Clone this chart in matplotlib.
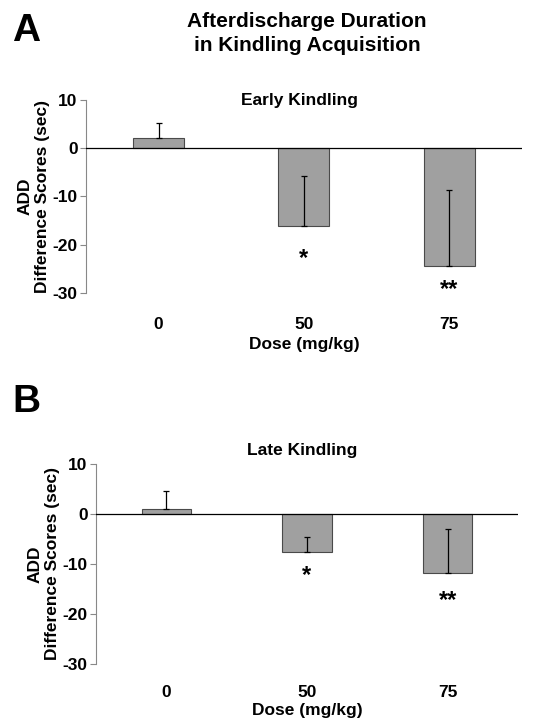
import matplotlib
matplotlib.use("Agg")
import matplotlib.pyplot as plt
import numpy as np

plt.rcParams["font.family"] = ["Liberation Sans", "DejaVu Sans"]
plt.rcParams["font.weight"] = "bold"
plt.rcParams["axes.unicode_minus"] = False

doses = ["0", "50", "75"]

# Early kindling (panel A)
early_mean = [2.1, -16.2, -24.4]
early_err = [3.1, 10.4, 15.7]      # drawn toward/above the bar end
early_stars = ["", "*", "**"]
early_star_y = [None, -22.8, -29.3]

# Late kindling (panel B)
late_mean = [1.0, -7.6, -11.8]
late_err = [3.6, 3.0, 8.8]
late_stars = ["", "*", "**"]
late_star_y = [None, -12.3, -17.3]

BAR_COLOR = "#a0a0a0"
FS = 12.5


def draw_panel(ax, means, errs, stars, star_y, subtitle, sub_y, tick_pad, xl_pad):
    x = np.arange(len(doses))
    ax.bar(x, means, width=0.35, color=BAR_COLOR, edgecolor="#4a4a4a",
           linewidth=0.8, zorder=2)
    ax.errorbar(x, means, yerr=[np.zeros(len(errs)), errs], fmt="none",
                ecolor="black", elinewidth=0.9, capsize=2.5, capthick=0.9,
                zorder=3)
    ax.axhline(0, color="black", linewidth=0.9, zorder=4)
    for xi, s, sy in zip(x, stars, star_y):
        if s:
            ax.text(xi, sy, s, ha="center", va="center", fontsize=17,
                    fontweight="bold")

    ax.set_xlim(-0.5, 2.5)
    ax.set_ylim(-30, 10)
    ax.set_yticks([10, 0, -10, -20, -30])
    ax.set_xticks(x)
    ax.set_xticklabels(doses)
    ax.tick_params(axis="x", length=0, pad=tick_pad, labelsize=FS)
    ax.tick_params(axis="y", length=4, width=0.8, color="#888888",
                   direction="out", pad=2, labelsize=FS)
    for lbl in ax.get_xticklabels() + ax.get_yticklabels():
        lbl.set_fontweight("bold")
    for side in ["top", "right", "bottom"]:
        ax.spines[side].set_visible(False)
    ax.spines["left"].set_color("#888888")
    ax.spines["left"].set_linewidth(0.8)
    ax.set_xlabel("Dose (mg/kg)", fontsize=FS, fontweight="bold", labelpad=xl_pad)
    ax.set_ylabel("ADD\nDifference Scores (sec)", fontsize=FS,
                  fontweight="bold", labelpad=2, linespacing=1.15)
    ax.text(0.49, sub_y, subtitle, transform=ax.transAxes, ha="center",
            va="center", fontsize=FS, fontweight="bold")


fig = plt.figure(figsize=(5.51, 7.27), dpi=100)

ax_a = fig.add_axes([0.156, 0.597, 0.791, 0.2655])
draw_panel(ax_a, early_mean, early_err, early_stars, early_star_y,
           "Early Kindling", 0.995, 17, 4)

ax_b = fig.add_axes([0.174, 0.0867, 0.766, 0.2751])
draw_panel(ax_b, late_mean, late_err, late_stars, late_star_y,
           "Late Kindling", 1.065, 15, 2)

fig.text(0.557, 0.954, "Afterdischarge Duration\nin Kindling Acquisition",
         ha="center", va="center", fontsize=15, fontweight="bold",
         linespacing=1.35)
fig.text(0.022, 0.958, "A", ha="left", va="center", fontsize=28,
         fontweight="bold")
fig.text(0.022, 0.447, "B", ha="left", va="center", fontsize=28,
         fontweight="bold")

plt.savefig("out.png", dpi=100)
plt.close(fig)
